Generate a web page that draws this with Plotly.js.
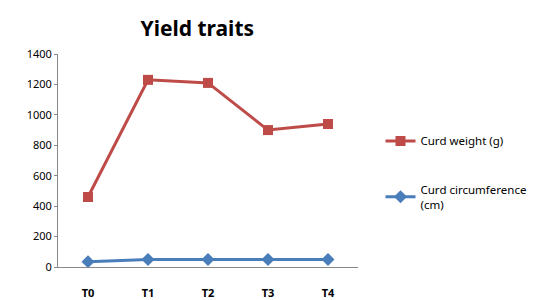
<!DOCTYPE html>
<html><head><meta charset="utf-8">
<script src="https://cdn.plot.ly/plotly-3.0.1.min.js"></script>
<style>html,body{margin:0;padding:0;background:#fff}#c{width:548px;height:300px}</style>
</head><body><div id="c"></div>
<script>
const categories = ["T0","T1","T2","T3","T4"];
const curdWeight = [460, 1230, 1210, 900, 940];
const curdCircumference = [35, 50, 50, 50, 50];
const seriesNames = ["Curd weight (g)", "Curd circumference<br>(cm)"];
const yTicks = [0,200,400,600,800,1000,1200,1400];

const font = "Noto Sans, Liberation Sans, sans-serif";
const traces = [
  {x: categories, y: curdWeight, name: seriesNames[0], legendgroup: "a", type: "scatter", mode: "lines+markers",
   line: {color: "#BE4B48", width: 3}, marker: {symbol: "square", size: 10, color: "#BE4B48"}},
  {x: categories, y: curdCircumference, name: seriesNames[1], legendgroup: "b", type: "scatter", mode: "lines+markers",
   line: {color: "#4A7EBB", width: 3}, marker: {symbol: "diamond", size: 10, color: "#4A7EBB"}}
];
const layout = {
  width: 548, height: 300,
  margin: {l: 58, r: 190, t: 54, b: 33},
  paper_bgcolor: "#fff", plot_bgcolor: "#fff",
  title: {text: "<b>Yield traits</b>", font: {family: font, size: 21, color: "#000"}, x: 0.36, xanchor: "center", y: 0.905, yanchor: "middle"},
  xaxis: {type: "category", showgrid: false, showline: true, linecolor: "#888", linewidth: 1,
          ticks: "", tickfont: {family: font, size: 11, color: "#000", weight: "bold"}, ticklabelstandoff: 16, zeroline: false,
          range: [-0.5, 4.5]},
  yaxis: {range: [0, 1400], tickvals: yTicks, showgrid: false, showline: true, linecolor: "#888", linewidth: 1,
          ticks: "outside", ticklen: 3, tickcolor: "#888", tickfont: {family: font, size: 11, color: "#000"}, zeroline: false},
  legend: {x: 1.075, y: 0.66, xanchor: "left", yanchor: "top", font: {family: font, size: 11.5, color: "#000"},
           tracegroupgap: 30, bgcolor: "rgba(0,0,0,0)", traceorder: "grouped", itemwidth: 30},
  showlegend: true
};
Plotly.newPlot("c", traces, layout, {staticPlot: true, displayModeBar: false});
</script></body></html>
